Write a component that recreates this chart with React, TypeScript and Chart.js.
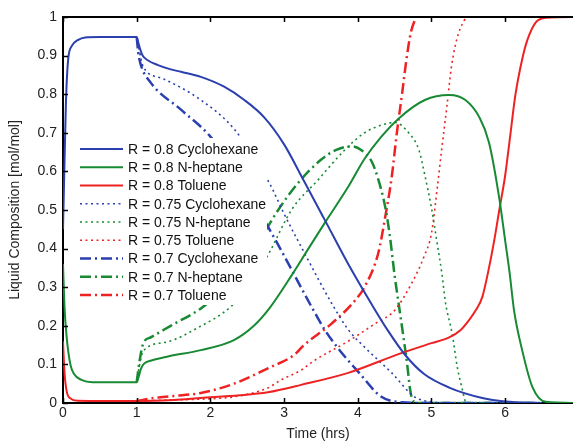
import React, { useEffect, useRef } from "react";
import { Chart, registerables } from "chart.js";
Chart.register(...registerables);

const X_TICKS = [0, 1, 2, 3, 4, 5, 6];
const Y_TICKS = [0, 0.1, 0.2, 0.3, 0.4, 0.5, 0.6, 0.7, 0.8, 0.9, 1];
const X_TITLE = "Time (hrs)";
const Y_TITLE = "Liquid Composition [mol/mol]";

// R = 0.8 Cyclohexane
const cyc80T = [0, 0.02, 0.04, 0.07, 0.12, 0.2, 0.3, 0.5, 1.0, 1.02, 1.05, 1.08, 1.15, 1.28, 1.45, 1.6, 1.87, 2.18, 2.46, 2.73, 3.0, 3.27, 3.55, 3.87, 4.19, 4.4, 4.64, 4.9, 5.24, 5.69, 6.0, 6.5];
const cyc80Y = [0.45, 0.62, 0.78, 0.89, 0.925, 0.94, 0.947, 0.948, 0.948, 0.935, 0.915, 0.9, 0.888, 0.876, 0.865, 0.858, 0.845, 0.82, 0.785, 0.74, 0.67, 0.575, 0.475, 0.36, 0.255, 0.19, 0.125, 0.075, 0.04, 0.013, 0.004, 0];
// R = 0.8 N-heptane
const hep80T = [0, 0.02, 0.05, 0.1, 0.15, 0.25, 0.4, 1.0, 1.03, 1.06, 1.1, 1.2, 1.41, 1.87, 2.32, 2.59, 2.8, 3.1, 3.33, 3.55, 3.87, 4.09, 4.32, 4.56, 4.91, 5.24, 5.46, 5.65, 5.78, 5.92, 6.0, 6.06, 6.12, 6.23, 6.37, 6.55, 7.0];
const hep80Y = [0.36, 0.25, 0.17, 0.1, 0.075, 0.06, 0.054, 0.054, 0.07, 0.09, 0.102, 0.11, 0.12, 0.137, 0.163, 0.2, 0.245, 0.33, 0.4, 0.466, 0.56, 0.632, 0.69, 0.738, 0.785, 0.798, 0.785, 0.74, 0.675, 0.53, 0.42, 0.337, 0.24, 0.137, 0.041, 0.003, 0];
// R = 0.8 Toluene
const tol80T = [0, 0.02, 0.05, 0.1, 0.2, 1.0, 1.5, 1.87, 2.4, 2.78, 3.23, 3.87, 4.6, 5.0, 5.24, 5.4, 5.51, 5.6, 5.69, 5.78, 5.85, 5.92, 6.0, 6.06, 6.14, 6.23, 6.3, 6.41, 6.55, 7.0];
const tol80Y = [0.16, 0.08, 0.03, 0.012, 0.006, 0.005, 0.008, 0.013, 0.02, 0.028, 0.047, 0.078, 0.13, 0.155, 0.17, 0.19, 0.215, 0.24, 0.275, 0.35, 0.42, 0.5, 0.59, 0.68, 0.8, 0.89, 0.94, 0.985, 0.998, 1.0];
// R = 0.75 Cyclohexane
const cyc75T = [1.0, 1.03, 1.06, 1.09, 1.36, 1.87, 2.32, 2.8, 3.0, 3.3, 3.64, 3.87, 4.09, 4.46, 4.77, 5.0, 5.3, 6.5];
const cyc75Y = [0.948, 0.92, 0.89, 0.87, 0.84, 0.785, 0.71, 0.57, 0.49, 0.38, 0.26, 0.19, 0.145, 0.078, 0.016, 0.003, 0, 0];
// R = 0.75 N-heptane
const hep75T = [1.0, 1.04, 1.09, 1.41, 1.83, 2.28, 2.55, 2.8, 3.1, 3.47, 3.82, 4.09, 4.32, 4.5, 4.69, 4.83, 4.91, 5.0, 5.08, 5.14, 5.19, 5.28, 5.35, 5.42, 5.46, 5.55, 6.5];
const hep75Y = [0.054, 0.1, 0.135, 0.158, 0.195, 0.25, 0.31, 0.39, 0.5, 0.58, 0.655, 0.7, 0.72, 0.727, 0.7, 0.655, 0.59, 0.505, 0.41, 0.337, 0.26, 0.18, 0.093, 0.034, 0.005, 0, 0];
// R = 0.75 Toluene
const tol75T = [1.0, 1.5, 2.0, 2.32, 2.78, 2.96, 3.23, 3.41, 3.87, 4.23, 4.5, 4.73, 4.9, 5.0, 5.08, 5.14, 5.21, 5.27, 5.34, 5.44, 5.5];
const tol75Y = [0.005, 0.008, 0.011, 0.016, 0.039, 0.06, 0.085, 0.11, 0.16, 0.205, 0.24, 0.31, 0.38, 0.44, 0.56, 0.66, 0.77, 0.87, 0.94, 0.99, 1.0];
// R = 0.7 Cyclohexane
const cyc70T = [1.0, 1.02, 1.05, 1.19, 1.6, 2.0, 2.4, 2.89, 3.37, 3.55, 3.74, 4.01, 4.32, 4.6, 5.0, 6.5];
const cyc70Y = [0.948, 0.91, 0.88, 0.83, 0.76, 0.69, 0.58, 0.42, 0.25, 0.19, 0.14, 0.08, 0.016, 0.002, 0, 0];
// R = 0.7 N-heptane
const hep70T = [1.0, 1.04, 1.09, 1.19, 1.46, 1.87, 2.2, 2.5, 2.92, 3.19, 3.5, 3.7, 3.92, 4.05, 4.19, 4.28, 4.37, 4.43, 4.5, 4.56, 4.62, 4.67, 4.71, 4.75, 4.85, 6.5];
const hep70Y = [0.054, 0.11, 0.155, 0.17, 0.2, 0.245, 0.3, 0.37, 0.5, 0.57, 0.63, 0.655, 0.665, 0.655, 0.625, 0.578, 0.51, 0.44, 0.33, 0.25, 0.17, 0.1, 0.035, 0.005, 0, 0];
// R = 0.7 Toluene
const tol70T = [1.0, 1.2, 1.5, 1.87, 2.32, 2.78, 3.14, 3.27, 3.64, 3.96, 4.09, 4.28, 4.37, 4.46, 4.53, 4.6, 4.66, 4.72, 4.77, 4.8];
const tol70Y = [0.005, 0.012, 0.018, 0.026, 0.05, 0.09, 0.125, 0.15, 0.205, 0.265, 0.3, 0.39, 0.48, 0.585, 0.7, 0.8, 0.89, 0.96, 0.99, 1.0];

const BLUE = "#2b3fae";
const GREEN = "#178a33";
const RED = "#ee2222";
const FONT = "'Liberation Sans', Arial, sans-serif";

const SOLID = { width: 2, dash: [] as number[] };
const DOTTED = { width: 1.6, dash: [2, 3.5] };
const DASHDOT = { width: 2.5, dash: [11, 4, 2, 4] };

const SERIES = [
  { label: "R = 0.8 Cyclohexane", t: cyc80T, y: cyc80Y, color: BLUE, style: SOLID },
  { label: "R = 0.8 N-heptane", t: hep80T, y: hep80Y, color: GREEN, style: SOLID },
  { label: "R = 0.8 Toluene", t: tol80T, y: tol80Y, color: RED, style: SOLID },
  { label: "R = 0.75 Cyclohexane", t: cyc75T, y: cyc75Y, color: BLUE, style: DOTTED },
  { label: "R = 0.75 N-heptane", t: hep75T, y: hep75Y, color: GREEN, style: DOTTED },
  { label: "R = 0.75 Toluene", t: tol75T, y: tol75Y, color: RED, style: DOTTED },
  { label: "R = 0.7 Cyclohexane", t: cyc70T, y: cyc70Y, color: BLUE, style: DASHDOT },
  { label: "R = 0.7 N-heptane", t: hep70T, y: hep70Y, color: GREEN, style: DASHDOT },
  { label: "R = 0.7 Toluene", t: tol70T, y: tol70Y, color: RED, style: DASHDOT },
];

const legendPlugin = {
  id: "boxLegend",
  afterDatasetsDraw(chart: any) {
    const { ctx, chartArea: ca } = chart;
    const left = ca.left + 12;
    const top = ca.top + 121;
    ctx.save();
    ctx.fillStyle = "#ffffff";
    ctx.fillRect(left, top, 192, 167);
    chart.data.datasets.forEach((ds: any, i: number) => {
      const cy = top + 11 + i * 18.25;
      ctx.beginPath();
      ctx.strokeStyle = ds.borderColor;
      ctx.lineWidth = ds.borderWidth;
      ctx.setLineDash(ds.borderDash || []);
      ctx.lineCap = "butt";
      ctx.moveTo(left + 5, cy);
      ctx.lineTo(left + 48, cy);
      ctx.stroke();
      ctx.setLineDash([]);
      ctx.fillStyle = "#111";
      ctx.font = `14px ${FONT}`;
      ctx.textBaseline = "middle";
      ctx.textAlign = "left";
      ctx.fillText(ds.label, left + 53, cy + 1);
    });
    ctx.restore();
  },
  afterDraw(chart: any) {
    const { ctx, chartArea: ca, scales } = chart;
    ctx.save();
    ctx.strokeStyle = "#000";
    ctx.lineWidth = 2;
    ctx.beginPath();
    ctx.moveTo(ca.left - 1, ca.top);
    ctx.lineTo(ca.right, ca.top);
    ctx.stroke();
    ctx.lineWidth = 1.5;
    ctx.beginPath();
    X_TICKS.forEach((v) => {
      const px = Math.round(scales.x.getPixelForValue(v)) + 0.5;
      ctx.moveTo(px, ca.bottom);
      ctx.lineTo(px, ca.bottom - 5);
      ctx.moveTo(px, ca.top);
      ctx.lineTo(px, ca.top + 5);
    });
    Y_TICKS.forEach((v) => {
      const py = Math.round(scales.y.getPixelForValue(v)) + 0.5;
      ctx.moveTo(ca.left, py);
      ctx.lineTo(ca.left + 5, py);
    });
    ctx.stroke();
    ctx.restore();
  },
};

export default function App() {
  const ref = useRef<HTMLCanvasElement>(null);
  useEffect(() => {
    document.body.style.margin = "0";
    const canvas = ref.current!;
    const chart = new Chart(canvas, {
      type: "line",
      data: {
        datasets: SERIES.map((s) => ({
          label: s.label,
          data: s.t.map((t, i) => ({ x: t, y: s.y[i] })),
          borderColor: s.color,
          backgroundColor: s.color,
          borderWidth: s.style.width,
          borderDash: s.style.dash,
          pointRadius: 0,
          fill: false,
          cubicInterpolationMode: "monotone" as const,
        })),
      },
      options: {
        animation: false,
        responsive: false,
        maintainAspectRatio: false,
        layout: { padding: { left: 8, top: 17, right: 0, bottom: 0 } },
        plugins: { legend: { display: false }, tooltip: { enabled: false } },
        scales: {
          x: {
            type: "linear",
            min: 0,
            max: 6.92,
            afterBuildTicks: (s: any) => {
              s.ticks = X_TICKS.map((v) => ({ value: v }));
            },
            afterFit: (s: any) => {
              s.height = 38;
            },
            ticks: {
              font: { size: 14, family: FONT },
              color: "#222",
              padding: 2,
              maxRotation: 0,
              autoSkip: false,
              callback: (v: any) => String(v),
            },
            grid: { display: false, drawTicks: false },
            border: { color: "#000", width: 2 },
            title: {
              display: true,
              text: X_TITLE,
              color: "#222",
              font: { size: 14, family: FONT, lineHeight: 1 },
              padding: { top: 0, bottom: 0 },
            },
          },
          y: {
            type: "linear",
            min: 0,
            max: 1,
            afterBuildTicks: (s: any) => {
              s.ticks = Y_TICKS.map((v) => ({ value: v }));
            },
            afterFit: (s: any) => {
              s.width = 55;
            },
            ticks: {
              font: { size: 14, family: FONT },
              color: "#222",
              padding: 6,
              autoSkip: false,
              callback: (v: any) => String(Number(Number(v).toFixed(1))),
            },
            grid: { display: false, drawTicks: false },
            border: { color: "#000", width: 2 },
            title: {
              display: true,
              text: Y_TITLE,
              color: "#222",
              font: { size: 14, family: FONT, lineHeight: 1 },
              padding: { top: 0, bottom: 0 },
            },
          },
        },
      },
      plugins: [legendPlugin],
    });
    return () => chart.destroy();
  }, []);
  return (
    <div style={{ width: 573, height: 441, background: "#fff" }}>
      <canvas ref={ref} width={573} height={441} />
    </div>
  );
}
